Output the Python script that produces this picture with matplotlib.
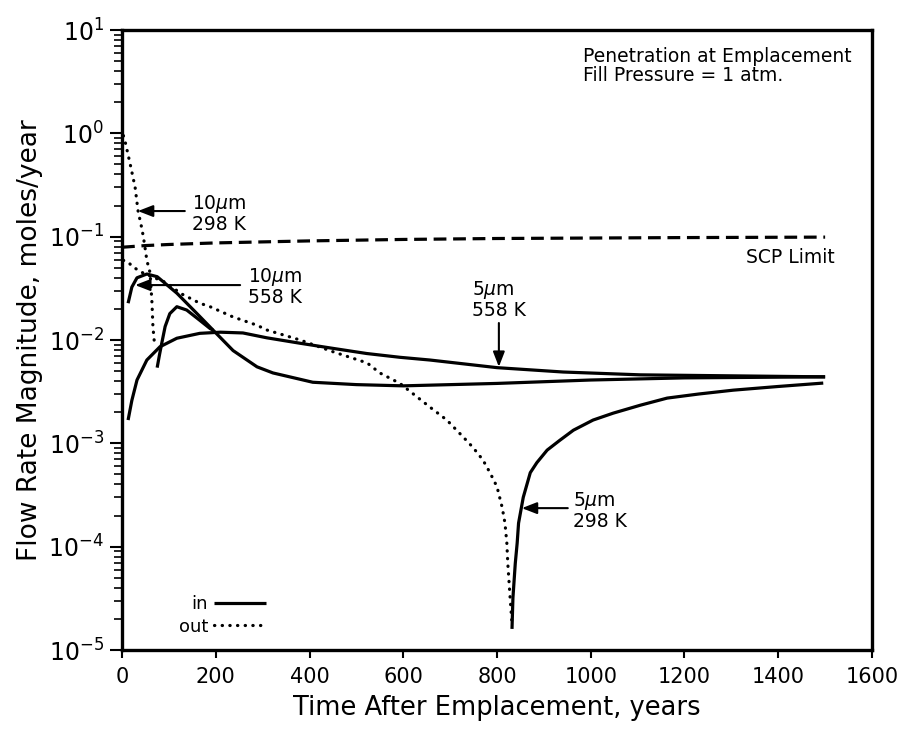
import matplotlib
matplotlib.use("Agg")
import matplotlib.pyplot as plt
from matplotlib.ticker import LogLocator, NullFormatter

# ---- data ----
scp_t = [0, 50, 100, 200, 300, 400, 600, 800, 1000, 1200, 1500]
scp_v = [0.079, 0.082, 0.084, 0.087, 0.089, 0.091, 0.094, 0.096, 0.097, 0.098, 0.099]

# 10 um, 298 K
out10_298_t = [3, 6, 17, 28, 34, 43, 48, 53, 60, 64, 66, 70]
out10_298_v = [0.95, 0.86, 0.515, 0.30, 0.18, 0.116, 0.085, 0.059, 0.0445, 0.0227, 0.0134, 0.0085]
in10_298_t = [75, 80, 85, 92, 102, 117, 138, 166, 188, 194]
in10_298_v = [0.0054, 0.0072, 0.0094, 0.0135, 0.018, 0.021, 0.0195, 0.0155, 0.0129, 0.0125]

# 10 um, 558 K
in10_558_t = [13, 21, 32, 53, 75, 117, 160, 194, 237, 288, 322, 407, 500, 600, 800, 1000, 1200, 1500]
in10_558_v = [0.0227, 0.0325, 0.040, 0.0435, 0.041, 0.0284, 0.018, 0.0125, 0.0079, 0.0055,
              0.0048, 0.0039, 0.0037, 0.0036, 0.0038, 0.0041, 0.0043, 0.0044]

# 5 um, 558 K
in5_558_t = [13, 21, 32, 53, 81, 117, 166, 210, 258, 309, 380, 450, 522, 593, 657, 800,
             941, 1106, 1300, 1500]
in5_558_v = [0.00168, 0.0026, 0.0041, 0.0064, 0.0086, 0.0104, 0.0116, 0.0119, 0.0117, 0.0105,
             0.0093, 0.0083, 0.0074, 0.0068, 0.0064, 0.0054, 0.0049, 0.0046, 0.0045, 0.0044]

# 5 um, 298 K
out5_298_t = [3, 13, 23, 45, 96, 124, 166, 188, 237, 288, 309, 380, 450, 523, 550, 593, 657,
              693, 728, 749, 770, 785, 800, 811, 817, 821, 823, 828, 832]
out5_298_v = [0.059, 0.0568, 0.051, 0.0445, 0.0356, 0.0284, 0.0227, 0.021, 0.0167, 0.0139,
              0.0125, 0.0100, 0.0077, 0.0060, 0.0048, 0.0038, 0.00224, 0.00168, 0.00115,
              9.1e-4, 6.9e-4, 5.2e-4, 3.8e-4, 2.4e-4, 1.69e-4, 1.08e-4, 6.9e-5, 3.2e-5, 1.8e-5]
in5_298_t = [832, 834, 839, 843, 846, 856, 871, 885, 907, 934, 963, 1005, 1048, 1106, 1163,
             1230, 1304, 1400, 1496]
in5_298_v = [1.6e-5, 3.2e-5, 6.9e-5, 1.08e-4, 1.69e-4, 3.0e-4, 5.2e-4, 6.5e-4, 8.6e-4, 1.07e-3,
             1.34e-3, 1.68e-3, 1.96e-3, 2.34e-3, 2.74e-3, 3.0e-3, 3.27e-3, 3.55e-3, 3.83e-3]

x_ticks = [0, 200, 400, 600, 800, 1000, 1200, 1400, 1600]

plt.rcParams['font.family'] = ['DejaVu Sans']
plt.rcParams['mathtext.fontset'] = 'dejavusans'

fig = plt.figure(figsize=(8.99, 7.29), dpi=100)
ax = fig.add_axes([122 / 899, 1 - 650 / 729, 750 / 899, 620 / 729])

lw = 2.3
dot = (0, (0.1, 2.3))
solid_kw = dict(color='black', lw=lw, solid_capstyle='butt', solid_joinstyle='round')
dot_kw = dict(color='black', lw=lw, linestyle=dot, dash_capstyle='round')

ax.plot(scp_t, scp_v, color='black', lw=lw, linestyle=(0, (4.0, 2.1)))

ax.plot(in10_558_t, in10_558_v, label='in', **solid_kw)
ax.plot(out10_298_t, out10_298_v, label='out', **dot_kw)
ax.plot(in10_298_t, in10_298_v, **solid_kw)
ax.plot(in5_558_t, in5_558_v, **solid_kw)
ax.plot(out5_298_t, out5_298_v, **dot_kw)
ax.plot(in5_298_t, in5_298_v, **solid_kw)

ax.set_yscale('log')
ax.set_xlim(0, 1600)
ax.set_ylim(1e-5, 10)
ax.set_xticks(x_ticks)
ax.yaxis.set_major_locator(LogLocator(base=10, numticks=10))
ax.yaxis.set_minor_locator(LogLocator(base=10, subs=range(2, 10), numticks=100))
ax.yaxis.set_minor_formatter(NullFormatter())

for s in ax.spines.values():
    s.set_linewidth(2.4)
ax.tick_params(axis='x', direction='out', length=6, width=1.5, labelsize=15, pad=6)
ax.tick_params(axis='y', which='major', direction='out', length=9, width=1.5, labelsize=17, pad=4)
ax.tick_params(axis='y', which='minor', direction='out', length=6, width=1.2)

ax.set_xlabel('Time After Emplacement, years', fontsize=18.5, labelpad=6)
ax.set_ylabel('Flow Rate Magnitude, moles/year', fontsize=19, labelpad=4)

# annotations
fs = 13.5
arrow = dict(arrowstyle='-|>,head_length=0.9,head_width=0.35', color='black', lw=1.5,
             shrinkA=0, shrinkB=0)
ax.annotate('', xy=(34, 0.177), xytext=(134, 0.177), arrowprops=arrow)
ax.text(149, 0.166, '10$\\mu$m\n298 K', fontsize=fs, va='center', ha='left', linespacing=1.0)

ax.annotate('', xy=(28, 0.034), xytext=(252, 0.034), arrowprops=arrow)
ax.text(269, 0.0333, '10$\\mu$m\n558 K', fontsize=fs, va='center', ha='left', linespacing=1.0)

ax.annotate('', xy=(804, 0.0055), xytext=(804, 0.0146), arrowprops=arrow)
ax.text(746, 0.0249, '5$\\mu$m\n558 K', fontsize=fs, va='center', ha='left', linespacing=1.0)

ax.annotate('', xy=(853, 2.36e-4), xytext=(951, 2.36e-4), arrowprops=arrow)
ax.text(962, 2.25e-4, '5$\\mu$m\n298 K', fontsize=fs, va='center', ha='left', linespacing=1.0)

ax.text(1521, 0.0635, 'SCP Limit', fontsize=fs, va='center', ha='right')
ax.text(983, 4.48, 'Penetration at Emplacement\nFill Pressure = 1 atm.', fontsize=fs,
        va='center', ha='left', linespacing=1.0)

ax.legend(loc='lower right', bbox_to_anchor=(0.192, 0.023), markerfirst=False, frameon=False,
          fontsize=13, handlelength=2.9, handletextpad=0.3, labelspacing=0.25, borderpad=0,
          borderaxespad=0)

fig.savefig('out.png', dpi=100)
